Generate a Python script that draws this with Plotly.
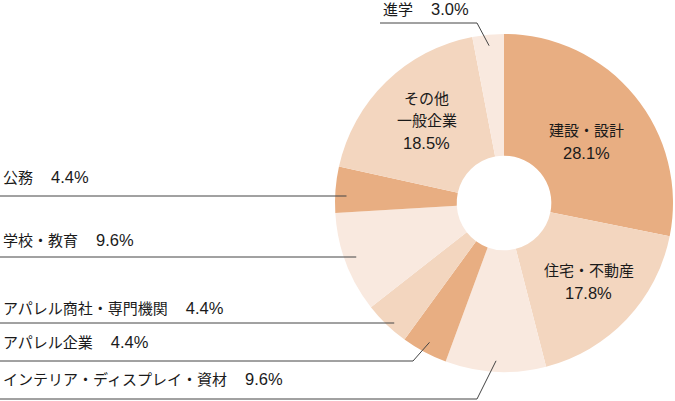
import math
import plotly.graph_objects as go

# ---- data ----
categories = ["建設・設計", "住宅・不動産", "インテリア・ディスプレイ・資材", "アパレル企業",
              "アパレル商社・専門機関", "学校・教育", "公務", "その他一般企業", "進学"]
values = [28.1, 17.8, 9.6, 4.4, 4.4, 9.6, 4.4, 18.5, 3.0]
inside_lines = {0: ["建設・設計"], 1: ["住宅・不動産"], 7: ["その他", "一般企業"]}

# ---- styles / layout ----
W, H = 675, 401
CX, CY, R = 504, 203, 169
HOLE = 0.28
DARK, MED, LIGHT = "#E8AE82", "#F3D6BF", "#F9E9DF"
colors = [DARK, MED, LIGHT, DARK, MED, LIGHT, DARK, MED, LIGHT]
FONT = "Liberation Sans, Noto Sans CJK JP, sans-serif"
FS = 15          # CJK text size
FS_NUM = 16.5    # number size
TEXT_COLOR = "#1a1a1a"
LINE_GAP = 22

# inside label placement: index -> (angle offset deg from slice middle, radius px)
inside_pos = {0: (3.5, 102), 1: (0.0, 117), 7: (0.4, 112)}

# outside label layout: line y, text centre y, text x, line start x, elbow x or None
outside = {
    6: dict(ly=196, ty=177, tx=1, x0=0, elbow=None),
    5: dict(ly=257, ty=239.5, tx=1, x0=0, elbow=None),
    4: dict(ly=323, ty=307.5, tx=1, x0=0, elbow=None),
    3: dict(ly=361, ty=342, tx=1, x0=0, elbow=413),
    2: dict(ly=399, ty=378.5, tx=1, x0=0, elbow=477),
    8: dict(ly=23, ty=9, tx=381, x0=380, elbow=477),
}
LEADER_R = 158

total = sum(values)


def num(v):
    return f'<span style="font-size:{FS_NUM}px">{v:.1f}%</span>'


fig = go.Figure()
fig.add_trace(go.Pie(
    labels=categories, values=values, sort=False, direction="clockwise", rotation=0,
    hole=HOLE, marker=dict(colors=colors, line=dict(width=0)),
    textinfo="none",
    domain=dict(x=[(CX - R) / W, (CX + R) / W], y=[(H - CY - R) / H, (H - CY + R) / H]),
    showlegend=False, hoverinfo="label+percent",
))

shapes, annotations = [], []
cum = 0.0
mids = []
for v in values:
    mids.append((cum + v / 2) / total * 2 * math.pi)
    cum += v

# inside labels
for i, lines in inside_lines.items():
    dang, rad = inside_pos[i]
    a = mids[i] + math.radians(dang)
    px = CX + rad * math.sin(a)
    py = CY - rad * math.cos(a)
    all_lines = lines + [num(values[i])]
    n = len(all_lines)
    for k, t in enumerate(all_lines):
        annotations.append(dict(x=px, y=py + (k - (n - 1) / 2) * LINE_GAP - 1.5,
                                xref="x", yref="y", text=t, showarrow=False,
                                xanchor="center", yanchor="middle",
                                font=dict(family=FONT, size=FS, color=TEXT_COLOR)))

line_color = "#444444"
for i, cfg in outside.items():
    a = mids[i]
    ex = CX + LEADER_R * math.sin(a)
    ey = CY - LEADER_R * math.cos(a)
    if cfg["elbow"] is None:
        shapes.append(dict(type="line", x0=cfg["x0"], x1=ex, y0=cfg["ly"], y1=cfg["ly"],
                           xref="x", yref="y", line=dict(color=line_color, width=1)))
    else:
        shapes.append(dict(type="path",
                           path=f"M {cfg['x0']} {cfg['ly']} L {cfg['elbow']} {cfg['ly']} L {ex} {ey}",
                           xref="x", yref="y", line=dict(color=line_color, width=1)))
    annotations.append(dict(x=cfg["tx"], y=cfg["ty"], xref="x", yref="y",
                            text=f"{categories[i]}\u3000\u2009{num(values[i])}", showarrow=False,
                            xanchor="left", yanchor="middle",
                            font=dict(family=FONT, size=FS, color=TEXT_COLOR)))

fig.update_layout(
    width=W, height=H, margin=dict(l=0, r=0, t=0, b=0),
    paper_bgcolor="white", plot_bgcolor="rgba(0,0,0,0)",
    xaxis=dict(range=[0, W], visible=False, fixedrange=True),
    yaxis=dict(range=[H, 0], visible=False, fixedrange=True),
    shapes=shapes, annotations=annotations,
)
fig.write_html("out.html", config={"displayModeBar": False},
               post_script="document.body.style.margin='0px';document.body.style.overflow='hidden';")
